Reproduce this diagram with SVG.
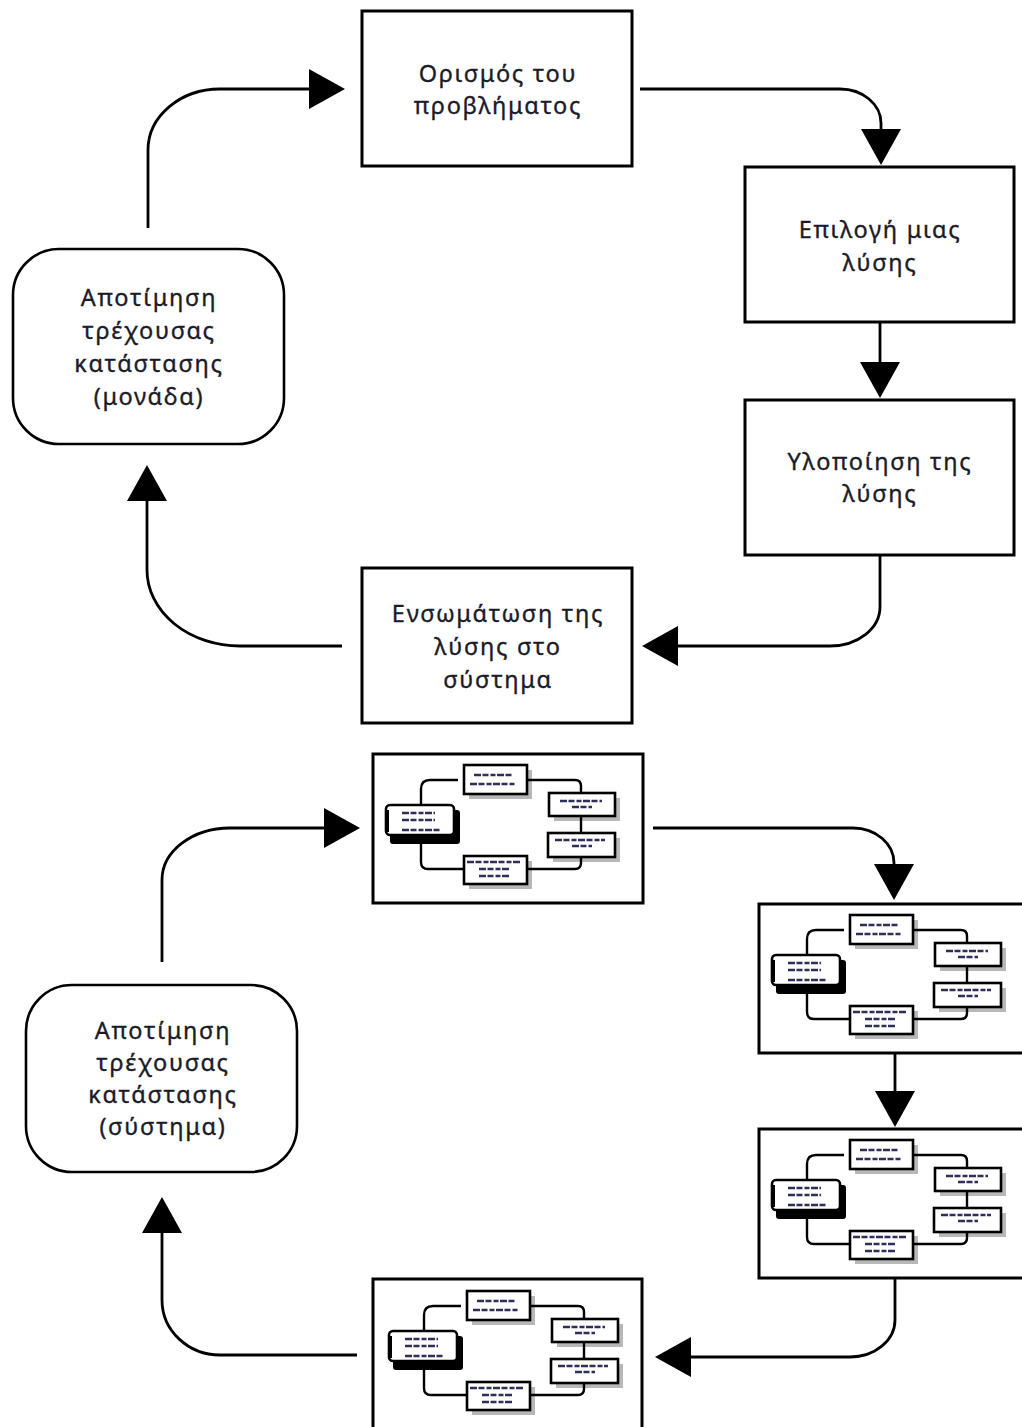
<svg xmlns="http://www.w3.org/2000/svg" xmlns:xlink="http://www.w3.org/1999/xlink" width="1022" height="1427" viewBox="0 0 1022 1427">
  <style>
    .box { fill: #fff; stroke: #000; stroke-width: 3; }
    .rbox { fill: #fff; stroke: #000; stroke-width: 2.6; }
    .lbl { font-family: "Noto Sans", "DejaVu Sans", sans-serif; font-size: 23.5px; letter-spacing: 1.7px; fill: #1b1b28; stroke: #1b1b28; stroke-width: 0.35; text-anchor: middle; }
    .conn { fill: none; stroke: #000; stroke-width: 2.8; }
    .mbox { fill: #fff; stroke: #000; stroke-width: 2.6; }
    .mshadow { fill: #b8b8b8; }
    .mline { fill: none; stroke: #000; stroke-width: 2.4; }
    .mtxt { fill: none; stroke: #2e2e58; stroke-width: 2.4; stroke-dasharray: 7 1.5 6 2 5 1.5; }
  </style>
  <defs>
    <marker id="ah" markerUnits="userSpaceOnUse" viewBox="0 0 36 40" markerWidth="36" markerHeight="40" refX="6" refY="20" orient="auto">
      <path d="M0 0 L36 20 L0 40 Z" fill="#000"/>
    </marker>
    <!-- small picture of the whole cycle, reused inside the lower boxes -->
    <symbol id="mini" viewBox="0 0 271 150" width="271" height="150" overflow="visible">
      <!-- shadows -->
      <rect class="mshadow" x="97" y="18" width="63" height="29"/>
      <rect class="mshadow" x="182" y="46" width="66" height="23"/>
      <rect class="mshadow" x="181" y="86" width="67" height="24"/>
      <rect class="mshadow" x="97" y="109" width="63" height="28"/>
      <!-- links -->
      <path class="mline" d="M86 28 H58 Q49 28 49 37 V55"/>
      <path class="mline" d="M155 28 H203 Q209 28 209 34 V41"/>
      <path class="mline" d="M209 64 V81"/>
      <path class="mline" d="M209 105 V111 Q209 117 203 117 H155"/>
      <path class="mline" d="M92 117 H56 Q49 117 49 110 V90"/>
      <!-- boxes -->
      <rect class="mbox" x="92" y="13" width="63" height="29"/>
      <rect class="mbox" x="177" y="41" width="66" height="23"/>
      <rect class="mbox" x="176" y="81" width="67" height="24"/>
      <rect class="mbox" x="92" y="104" width="63" height="28"/>
      <rect x="18" y="58" width="70" height="34" rx="3" fill="#000"/>
      <rect class="mbox" x="14" y="53" width="68" height="30" rx="4"/>
      <path d="M15 58 V80" stroke="#000" stroke-width="4"/>
      <!-- tiny labels -->
      <path class="mtxt" d="M102 23 H140 M98 32 H143"/>
      <path class="mtxt" d="M188 49 H230 M200 55 H220"/>
      <path class="mtxt" d="M183 88 H233 M200 94 H220"/>
      <path class="mtxt" d="M95 110 H148 M107 117 H137 M107 124 H137"/>
      <path class="mtxt" d="M30 61 H63 M30 68 H63 M30 78 H68"/>
    </symbol>
  </defs>

  <rect width="1022" height="1427" fill="#fff"/>

  <!-- connectors -->
  <g id="connectors">
    <path class="conn" marker-end="url(#ah)" d="M640 89 H840 A41 34 0 0 1 881 123 V135"/>
    <path class="conn" marker-end="url(#ah)" d="M880 322 V368"/>
    <path class="conn" marker-end="url(#ah)" d="M880 555 V607 A50 39 0 0 1 830 646 H672"/>
    <path class="conn" marker-end="url(#ah)" d="M342 646 H240 A93 76 0 0 1 147 570 V495"/>
    <path class="conn" marker-end="url(#ah)" d="M148 228 V150 A72 61 0 0 1 220 89 H315"/>

    <path class="conn" marker-end="url(#ah)" d="M653 828 H853 A41 35 0 0 1 894 863 V870"/>
    <path class="conn" marker-end="url(#ah)" d="M895 1053 V1097"/>
    <path class="conn" marker-end="url(#ah)" d="M895 1278 V1320 A45 37 0 0 1 850 1357 H685"/>
    <path class="conn" marker-end="url(#ah)" d="M357 1355 H220 A58 55 0 0 1 162 1300 V1227"/>
    <path class="conn" marker-end="url(#ah)" d="M162 962 V880 A68 52 0 0 1 230 828 H330"/>
  </g>

  <!-- upper cycle: single unit -->
  <g id="define-problem">
    <rect class="box" x="362" y="11" width="270" height="155"/>
    <text class="lbl" x="498" y="82">Ορισμός του</text>
    <text class="lbl" x="498" y="114">προβλήματος</text>
  </g>
  <g id="choose-solution">
    <rect class="box" x="745" y="167" width="269" height="155"/>
    <text class="lbl" x="880" y="238">Επιλογή μιας</text>
    <text class="lbl" x="880" y="271">λύσης</text>
  </g>
  <g id="implement-solution">
    <rect class="box" x="745" y="400" width="269" height="155"/>
    <text class="lbl" x="880" y="470">Υλοποίηση της</text>
    <text class="lbl" x="880" y="502">λύσης</text>
  </g>
  <g id="integrate-solution">
    <rect class="box" x="362" y="568" width="270" height="155"/>
    <text class="lbl" x="498" y="622">Ενσωμάτωση της</text>
    <text class="lbl" x="498" y="655">λύσης στο</text>
    <text class="lbl" x="498" y="688">σύστημα</text>
  </g>
  <g id="evaluate-unit">
    <rect class="rbox" x="13" y="249" width="271" height="195" rx="46"/>
    <text class="lbl" x="149" y="306">Αποτίμηση</text>
    <text class="lbl" x="149" y="339">τρέχουσας</text>
    <text class="lbl" x="149" y="372">κατάστασης</text>
    <text class="lbl" x="149" y="405">(μονάδα)</text>
  </g>

  <!-- lower cycle: whole system -->
  <g id="system-1">
    <rect class="box" x="373" y="754" width="270" height="149"/>
    <use href="#mini" xlink:href="#mini" x="372" y="752"/>
  </g>
  <g id="system-2">
    <rect class="box" x="759" y="904" width="275" height="149"/>
    <use href="#mini" xlink:href="#mini" x="758" y="902"/>
  </g>
  <g id="system-3">
    <rect class="box" x="759" y="1129" width="275" height="149"/>
    <use href="#mini" xlink:href="#mini" x="758" y="1127"/>
  </g>
  <g id="system-4">
    <rect class="box" x="373" y="1279" width="269" height="160"/>
    <use href="#mini" xlink:href="#mini" x="375" y="1278"/>
  </g>
  <g id="evaluate-system">
    <rect class="rbox" x="26" y="985" width="271" height="187" rx="46"/>
    <text class="lbl" x="163" y="1039">Αποτίμηση</text>
    <text class="lbl" x="163" y="1071">τρέχουσας</text>
    <text class="lbl" x="163" y="1103">κατάστασης</text>
    <text class="lbl" x="163" y="1135">(σύστημα)</text>
  </g>
</svg>
